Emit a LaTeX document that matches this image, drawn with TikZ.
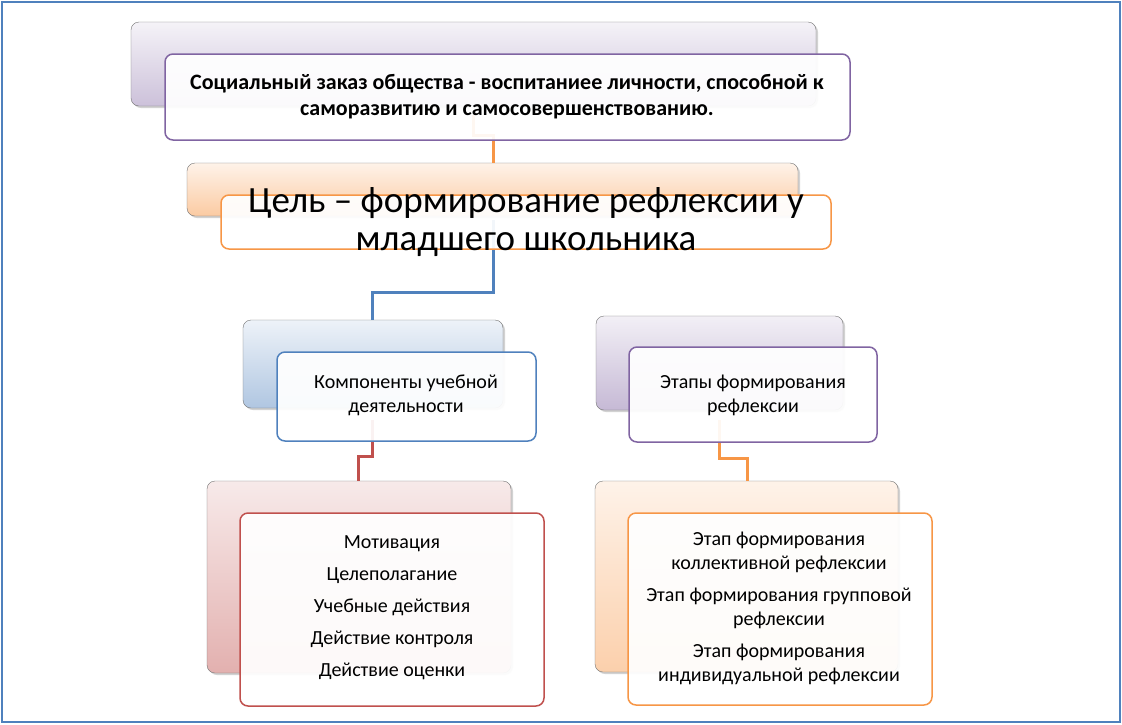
\documentclass[tikz,border=0pt]{standalone}
\usepackage{fontspec}
\setmainfont{Carlito}
\usetikzlibrary{shadows}
\definecolor{pur}{HTML}{8064A2}
\definecolor{org}{HTML}{F79646}
\definecolor{blu}{HTML}{4F81BD}
\definecolor{rd}{HTML}{C0504D}
\tikzset{
  back/.style={draw=black!55,rounded corners=8pt,drop shadow={shadow xshift=2pt,shadow yshift=-2pt,opacity=0.35}},
  front/.style={fill=white,fill opacity=0.93,text opacity=1,rounded corners=8pt,line width=1.5pt,align=center},
  conn/.style={line width=3pt},
  small/.style={align=center,font=\fontsize{20pt}{24pt}\selectfont},
}
\begin{document}
\begin{tikzpicture}[x=1pt,y=-1pt]
\useasboundingbox (0,0) rectangle (1122,724);
\fill[white] (0,0) rectangle (1122,724);
\draw[blu,line width=2pt] (2,2) rectangle (1120,722);
% back boxes
\draw[back,top color=pur!8,bottom color=pur!40] (131,22) rectangle (816,106);
\draw[back,top color=org!12,bottom color=org!50] (187,163) rectangle (798,216);
\draw[back,top color=blu!10,bottom color=blu!45] (243,320) rectangle (503,408);
\draw[back,top color=pur!10,bottom color=pur!45] (596,316) rectangle (843,410);
\draw[back,top color=rd!12,bottom color=rd!45] (207,481) rectangle (511,673);
\draw[back,top color=org!12,bottom color=org!45] (595,481) rectangle (898,672);
% connectors
\coordinate (c1) at (473,115); \coordinate (c2) at (493,163);
\draw[conn,org] (c1) |- (493,135) -- (c2);
\coordinate (b1) at (493,220); \coordinate (b2) at (372,320);
\draw[conn,blu] (b1) |- (372,292) -- (b2);
\coordinate (r1) at (372,420); \coordinate (r2) at (358,481);
\draw[conn,rd] (r1) |- (358,456) -- (r2);
\coordinate (o1) at (719,420); \coordinate (o2) at (747,481);
\draw[conn,org] (o1) |- (747,458) -- (o2);
% front boxes
\draw[front,draw=pur] (165,54) rectangle (850,140);
\node[align=center,font=\bfseries\fontsize{22pt}{26pt}\selectfont] (t) at (507,97) {Социальный заказ общества - воспитаниее личности, способной к\\саморазвитию и самосовершенствованию.};
\draw[front,draw=org] (221,195) rectangle (831,249);
\node[align=center,font=\fontsize{37pt}{38pt}\selectfont] (g) at (526,222) {Цель – формирование рефлексии у\\младшего школьника};
\draw[front,draw=blu] (277,352) rectangle (536,441);
\node[small] (k) at (406,395) {Компоненты учебной\\деятельности};
\draw[front,draw=pur] (629,347) rectangle (877,442);
\node[small] (e) at (753,395) {Этапы формирования\\рефлексии};
\draw[front,draw=rd] (240,513) rectangle (544,706);
\node[align=center,font=\fontsize{20pt}{32pt}\selectfont] (m) at (392,608) {Мотивация\\Целеполагание\\Учебные действия\\Действие контроля\\Действие оценки};
\draw[front,draw=org] (628,513) rectangle (932,705);
\node[small] (s) at (779,608) {Этап формирования\\коллективной рефлексии\\[8pt]Этап формирования групповой\\рефлексии\\[8pt]Этап формирования\\индивидуальной рефлексии};
\end{tikzpicture}
\end{document}
